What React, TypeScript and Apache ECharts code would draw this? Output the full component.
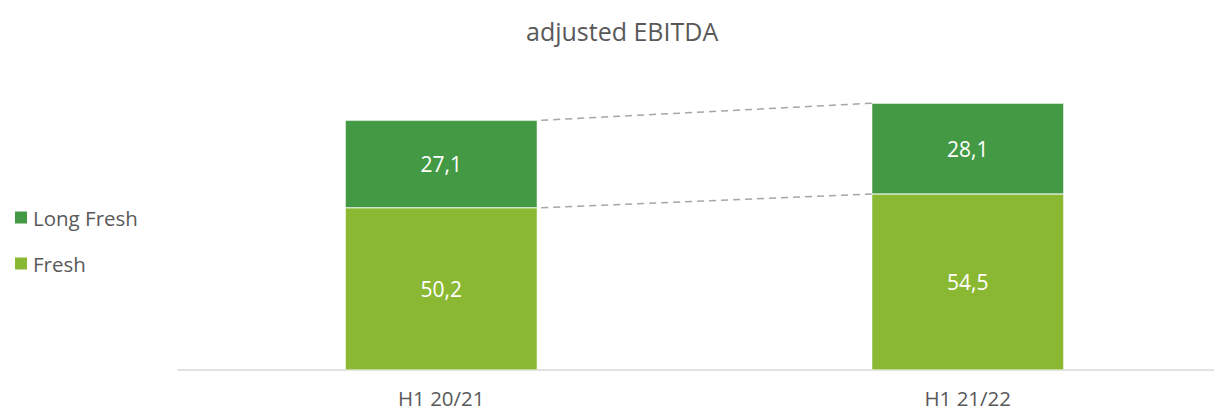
import React, { useEffect, useRef } from "react";
import * as echarts from "echarts";

const categories = ["H1 20/21", "H1 21/22"];
const freshValues = [50.2, 54.5];
const longFreshValues = [27.1, 28.1];
const seriesNames = ["Long Fresh", "Fresh"];
const titleText = "adjusted EBITDA";

const FONT = "'Open Sans', 'Noto Sans', sans-serif";
const TEXT = "#595959";
const BAR_W = 192;

export default function App() {
  const ref = useRef<HTMLDivElement>(null);
  useEffect(() => {
    if (!ref.current) return;
    const chart = echarts.init(ref.current, null, { renderer: "svg" });
    const totals = freshValues.map((v, i) => v + longFreshValues[i]);
    const connectors: number[][] = [];
    for (let i = 0; i < categories.length - 1; i++) {
      connectors.push([i, freshValues[i], freshValues[i + 1]]);
      connectors.push([i, totals[i], totals[i + 1]]);
    }
    const fmt = (p: any) => Number(p.value).toFixed(1).replace(".", ",");
    chart.setOption({
      animation: false,
      textStyle: { fontFamily: FONT },
      title: {
        text: titleText,
        left: 521,
        top: 13,
        textStyle: { fontFamily: FONT, fontSize: 25, fontWeight: "normal", color: TEXT },
      },
      legend: {
        data: seriesNames,
        orient: "vertical",
        left: 8,
        top: 202,
        itemWidth: 14,
        itemHeight: 14,
        itemGap: 25,
        icon: "rect",
        textStyle: { fontFamily: FONT, fontSize: 20.5, color: TEXT },
      },
      grid: { left: 178, width: 1053, top: 47, bottom: 40, outerBoundsMode: "none", containLabel: false },
      xAxis: {
        type: "category",
        data: categories,
        axisLine: { lineStyle: { color: "#d9d9d9", width: 1.5 } },
        axisTick: { show: false },
        axisLabel: { fontFamily: FONT, fontSize: 20.5, color: TEXT, margin: 17 },
      },
      yAxis: { type: "value", min: 0, max: 100, show: false, splitLine: { show: false } },
      series: [
        {
          name: "Fresh",
          type: "bar",
          stack: "total",
          barWidth: BAR_W,
          data: freshValues,
          itemStyle: { color: "#8ab833", borderColor: "#ffffff", borderWidth: 0.5 },
          label: { show: true, position: "inside", formatter: fmt, color: "#fff", fontSize: 21, fontFamily: FONT },
        },
        {
          name: "Long Fresh",
          type: "bar",
          stack: "total",
          barWidth: BAR_W,
          data: longFreshValues,
          itemStyle: { color: "#449a44", borderColor: "#ffffff", borderWidth: 0.5 },
          label: { show: true, position: "inside", formatter: fmt, color: "#fff", fontSize: 21, fontFamily: FONT },
        },
        {
          type: "custom",
          silent: true,
          encode: { x: 0, y: [1, 2] },
          data: connectors,
          z: 5,
          renderItem: (params: any, api: any) => {
            const i = api.value(0);
            const p1 = api.coord([i, api.value(1)]);
            const p2 = api.coord([i + 1, api.value(2)]);
            return {
              type: "line",
              shape: { x1: p1[0] + BAR_W / 2 + 4, y1: p1[1], x2: p2[0] - BAR_W / 2, y2: p2[1] },
              style: { stroke: "#a6a6a6", lineWidth: 1.5, lineDash: [7, 5] },
            };
          },
        },
      ],
    });
    return () => chart.dispose();
  }, []);
  return (
    <div
      ref={ref}
      style={{ position: "absolute", left: 0, top: 0, width: 1214, height: 410, background: "#fff" }}
    />
  );
}
